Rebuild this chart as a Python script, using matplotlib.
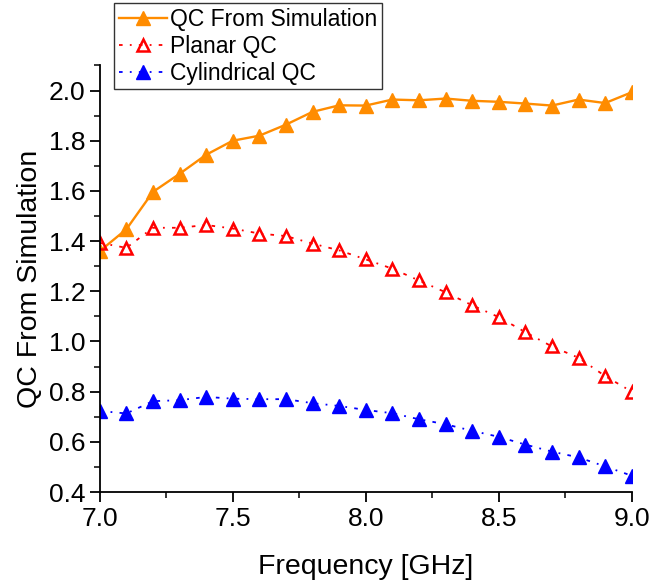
import numpy as np
import matplotlib.pyplot as plt
from matplotlib.ticker import MultipleLocator

plt.rcParams['font.family'] = ['Liberation Sans', 'DejaVu Sans']

freq = [7.0, 7.1, 7.2, 7.3, 7.4, 7.5, 7.6, 7.7, 7.8, 7.9, 8.0,
        8.1, 8.2, 8.3, 8.4, 8.5, 8.6, 8.7, 8.8, 8.9, 9.0]
qc_sim = [1.36, 1.447, 1.596, 1.668, 1.744, 1.80, 1.82, 1.864, 1.915, 1.941, 1.94,
          1.964, 1.961, 1.968, 1.959, 1.955, 1.948, 1.94, 1.964, 1.95, 1.993]
qc_planar = [1.393, 1.373, 1.453, 1.453, 1.464, 1.45, 1.43, 1.42, 1.39, 1.363, 1.327,
             1.29, 1.243, 1.196, 1.144, 1.097, 1.037, 0.98, 0.935, 0.862, 0.80]
qc_cyl = [0.723, 0.713, 0.762, 0.766, 0.779, 0.772, 0.77, 0.77, 0.754, 0.743, 0.727,
          0.714, 0.69, 0.67, 0.644, 0.62, 0.589, 0.561, 0.538, 0.502, 0.465]

fig = plt.figure(figsize=(6.65, 5.82), dpi=100)
ax = fig.add_axes([0.150, 0.1546, 0.800, 0.733])

ax.plot(freq, qc_sim, color='#ff8c00', lw=1.7, marker='^', ms=10,
        mec='#ff8c00', mfc='#ff8c00', label='QC From Simulation')
ax.plot(freq, qc_planar, color='red', lw=1.3, ls=(0, (2, 4, 1, 4)), marker='^', ms=9,
        mfc='none', mec='red', mew=1.8, label='Planar QC')
ax.plot(freq, qc_cyl, color='blue', lw=1.3, ls=(0, (2, 4, 1, 4)), marker='^', ms=10,
        mfc='blue', mec='blue', label='Cylindrical QC')

ax.set_xlim(7.0, 9.0)
ax.set_ylim(0.4, 2.1)
ax.xaxis.set_major_locator(MultipleLocator(0.5))
ax.xaxis.set_minor_locator(MultipleLocator(0.25))
ax.yaxis.set_major_locator(MultipleLocator(0.2))
ax.yaxis.set_minor_locator(MultipleLocator(0.1))
ax.xaxis.set_major_formatter(plt.FormatStrFormatter('%.1f'))
ax.yaxis.set_major_formatter(plt.FormatStrFormatter('%.1f'))

for s in ['top', 'right']:
    ax.spines[s].set_visible(False)
for s in ['left', 'bottom']:
    ax.spines[s].set_linewidth(1.3)

ax.tick_params(which='major', direction='out', length=7, width=1.3, labelsize=19)
ax.tick_params(which='minor', direction='out', length=4, width=1.1)

ax.set_xlabel('Frequency [GHz]', fontsize=20.5, labelpad=17)
ax.set_ylabel('QC From Simulation', fontsize=20.5, labelpad=4)

leg = fig.legend(loc='upper left', bbox_to_anchor=(114 / 665, 1 - 3 / 582),
                 fontsize=16.5, frameon=True, fancybox=False, handlelength=2.1,
                 borderpad=0.2, labelspacing=0.18, handletextpad=0.15,
                 borderaxespad=0)
leg.get_frame().set_edgecolor('black')
leg.get_frame().set_linewidth(1.0)

fig.savefig('out.png', dpi=100)
